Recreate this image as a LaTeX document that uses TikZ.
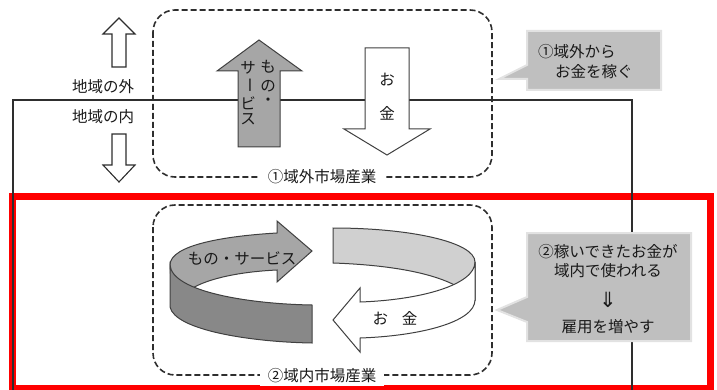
\documentclass[tikz,border=0pt]{standalone}
\usepackage{fontspec}
\setmainfont{Noto Sans CJK JP}
\newfontfamily\djv{DejaVu Sans}
\newcommand\fsz{\fontsize{15.5}{18}\selectfont}
\definecolor{lineblk}{HTML}{2E2E2E}
\definecolor{midgray}{HTML}{A6A6A6}
\definecolor{darkgray2}{HTML}{888888}
\definecolor{lightgray2}{HTML}{D0D0D0}
\definecolor{callgray}{HTML}{BFBFBF}
\definecolor{calledge}{HTML}{E2E2E2}
\tikzset{
  thinline/.style={draw=lineblk, line width=1.3},
  dashbox/.style={draw=lineblk, line width=1.6, dash pattern=on 6pt off 3pt, rounded corners=22},
  outlinearrow/.style={draw=lineblk, line width=1.1, fill=white},
  shapeedge/.style={draw=black!75, line width=1},
  callout/.style={fill=callgray, draw=calledge, line width=2},
  txt/.style={font=\fsz, inner sep=0pt, text=black!90},
  lbl/.style={font=\fsz, fill=white, inner xsep=8pt, inner ysep=3pt, text=black!90},
}
\begin{document}
\begin{tikzpicture}[x=1pt,y=-1pt]
\useasboundingbox (0,0) rectangle (717,390);
% red frame
\draw[red, line width=7] (12,197) rectangle (710,388.5);
% boundary lines
\coordinate (lb) at (13,392);
\coordinate (lt) at (13,100);
\coordinate (rt) at (632,100);
\coordinate (rb) at (632,392);
\draw[thinline] (lb) -- (lt) -- (rt) -- (rb);
% outline arrows
\draw[outlinearrow] (112,67) -- (112,34) -- (103,34) -- (119,18) -- (135,34) -- (126,34) -- (126,67) -- cycle;
\draw[outlinearrow] (112,134) -- (126,134) -- (126,165) -- (135,165) -- (119,182) -- (103,165) -- (112,165) -- cycle;
\node[txt] (outside) at (103,87) {地域の外};
\node[txt] (inside) at (103,117) {地域の内};
% dashed boxes
\draw[dashbox] (153,10) rectangle (492,177);
\draw[dashbox] (153,205) rectangle (492,375);
% gray up arrow
\draw[shapeedge, fill=midgray] (238,147) -- (238,71) -- (217,71) -- (259,40) -- (302,71) -- (280,71) -- (280,147) -- cycle;
\node[txt] (m1) at (268,67) {も};
\node[txt] (m2) at (268,86) {の};
\node[txt] (m3) at (268,102) {・};
\node[txt] (s1) at (248,68) {サ};
\node[txt, rotate=-90] (s2) at (248,85) {ー};
\node[txt] (s3) at (248,103) {ビ};
\node[txt] (s4) at (248,119) {ス};
% white down arrow
\draw[shapeedge, fill=white] (365,48) -- (409,48) -- (409,129) -- (430,129) -- (387,155) -- (344,129) -- (365,129) -- cycle;
\node[txt] (o1) at (387,80) {お};
\node[txt] (o2) at (387,113) {金};
% left ribbon
\draw[shapeedge, fill=midgray] (170,265) .. controls (170,245) and (225,236) .. (277,233) -- (277,221) -- (312,251) -- (277,282) -- (277,270) .. controls (235,272) and (203,280) .. (188,291) -- (185,300) -- (172,300) -- cycle;
\draw[shapeedge, fill=darkgray2] (170,265) -- (170,307) .. controls (175,330) and (250,342) .. (312,343) -- (312,305) .. controls (250,304) and (172,292) .. (170,265) -- cycle;
\node[txt] (goods) at (242,258) {もの・サービス};
% right ribbon
\draw[shapeedge, fill=lightgray2] (333,228) .. controls (410,228) and (475,242) .. (475,262) -- (475,300) -- (460,288) .. controls (435,273) and (390,265) .. (333,263) -- cycle;
\draw[shapeedge, fill=white] (475,262) .. controls (475,285) and (420,300) .. (360,302) -- (360,288) -- (333,320) -- (360,352) -- (360,338) .. controls (420,336) and (475,322) .. (475,300) -- cycle;
\node[txt] (money) at (395,318) {お\hspace{0.9em}金};
% callouts
\draw[callout] (527,31) -- (661,31) -- (661,90) -- (527,90) -- (527,79) -- (499,79) -- (527,65) -- cycle;
\node[txt, anchor=west] (c1a) at (538,52) {①域外から};
\node[txt, anchor=west] (c1b) at (555,72) {お金を稼ぐ};
\draw[callout] (527,233) -- (691,233) -- (691,341) -- (527,341) -- (527,322) -- (497,310) -- (527,297) -- cycle;
\node[txt] (c2a) at (608,252) {②稼いできたお金が};
\node[txt] (c2b) at (608,271) {域内で使われる};
\node[txt, font=\djv\fontsize{21}{22}\selectfont] (c2c) at (608,300) {⇓};
\node[txt] (c2d) at (608,327) {雇用を増やす};
% box labels
\node[lbl] (ext) at (322,177) {①域外市場産業};
\node[lbl] (int) at (322,376) {②域内市場産業};
\end{tikzpicture}
\end{document}
